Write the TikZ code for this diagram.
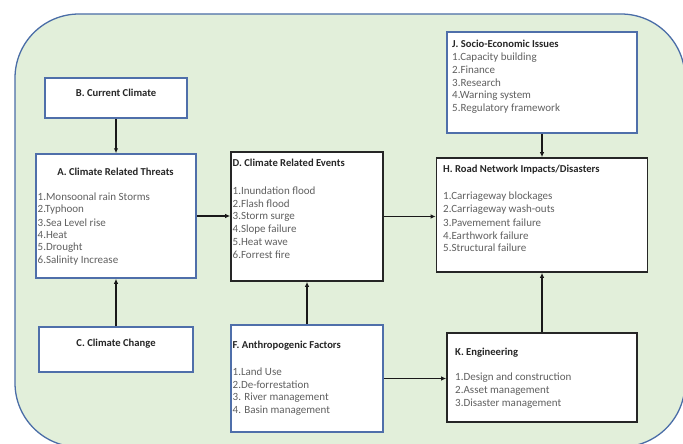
\documentclass[tikz,border=0pt]{standalone}
\usepackage{fontspec}
\setmainfont{Carlito}
\usetikzlibrary{arrows.meta}
\definecolor{panelfill}{HTML}{E2EFDA}
\definecolor{panelline}{HTML}{4A6DA7}
\definecolor{boxblue}{HTML}{4F6FAA}
\definecolor{boxdark}{HTML}{262626}
\definecolor{itemgray}{HTML}{606060}
\tikzset{
  bluebox/.style={draw=boxblue, line width=1.5pt, fill=white, inner sep=0pt},
  darkbox/.style={draw=boxdark, line width=1.7pt, fill=white, inner sep=0pt},
  title/.style={font=\fontsize{10.6}{13}\selectfont\bfseries, text=black!85, inner sep=0pt},
  item/.style={font=\fontsize{11}{13}\selectfont, text=itemgray, inner sep=0pt, anchor=west},
  flow/.style={draw=black!90, line width=1.3pt, -{Latex[length=5pt,width=4.5pt]}}
}
% list of items, one per line, starting at (x, y) with 12.85pt steps
\newcommand{\itemlist}[3]{%
  \foreach \t [count=\i] in {#3}
    \node[item] at (#1, #2 + 12.85*\i - 12.85) {\t};}
\begin{document}
\begin{tikzpicture}[x=1pt, y=-1pt]
\useasboundingbox (0,0) rectangle (683,444);
\clip (0,0) rectangle (683,444);
% panel
\draw[fill=panelfill, draw=panelline, line width=1.3pt, rounded corners=64pt]
  (15,14) rectangle (685,447);

% boxes
\node[bluebox, minimum width=142pt, minimum height=40pt] (B) at (116,98) {};
\node[bluebox, minimum width=160pt, minimum height=124pt] (A) at (116,216) {};
\node[bluebox, minimum width=154pt, minimum height=45pt] (C) at (116,349.5) {};
\node[darkbox, minimum width=152pt, minimum height=129pt] (D) at (307,216.5) {};
\node[bluebox, minimum width=152pt, minimum height=107pt] (F) at (307,378.5) {};
\node[bluebox, minimum width=190pt, minimum height=101pt] (J) at (542,82.5) {};
\node[darkbox, minimum width=211pt, minimum height=114pt] (H) at (542,215) {};
\node[darkbox, minimum width=190pt, minimum height=89pt] (K) at (542,377.5) {};

% texts
\node[title] (Bt) at (116,93.3) {B. Current Climate};

\node[title] (At) at (115.5,171.7) {A. Climate Related Threats};
\itemlist{37.5}{196.7}{1.Monsoonal rain Storms,2.Typhoon,3.Sea Level rise,4.Heat,5.Drought,6.Salinity Increase}

\node[title] (Ct) at (116,343.3) {C. Climate Change};

\node[title, anchor=west] (Dt) at (232.5,163.3) {D. Climate Related Events};
\itemlist{232.5}{190.7}{1.Inundation flood,2.Flash flood,3.Storm surge,4.Slope failure,5.Heat wave,6.Forrest fire}

\node[title, anchor=west] (Ft) at (232.5,346) {F. Anthropogenic Factors};
\itemlist{232.5}{371.7}{1.Land Use,2.De-forrestation,3. River management,4. Basin management}

\node[title, anchor=west] (Jt) at (452,44.3) {J. Socio-Economic Issues};
\itemlist{452}{57.3}{1.Capacity building,2.Finance,3.Research,4.Warning system,5.Regulatory framework}

\node[title, anchor=west] (Ht) at (443,170) {H. Road Network Impacts/Disasters};
\itemlist{443}{196.7}{1.Carriageway blockages,2.Carriageway wash-outs,3.Pavemement failure,4.Earthwork failure,5.Structural failure}

\node[title, anchor=west] (Kt) at (455,352.7) {K. Engineering};
\itemlist{455}{377.7}{1.Design and construction,2.Asset management,3.Disaster management}

% connectors
\draw[flow] (B.south) -- (A.north);
\draw[flow] (C.north) -- (A.south);
\draw[flow] (A.east) -- (A.east -| D.west);
\draw[flow] (F.north) -- (D.south);
\draw[flow] (D.east) -- (D.east -| H.west);
\draw[flow] (J.south) -- (H.north);
\draw[flow] (F.east) -- (F.east -| K.west);
\draw[flow] (K.north) -- (H.south);
\end{tikzpicture}
\end{document}
